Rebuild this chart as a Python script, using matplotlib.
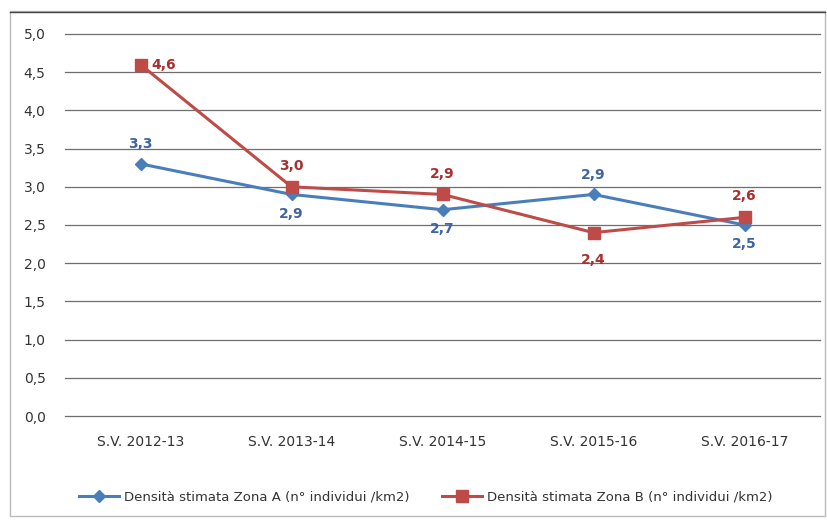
import matplotlib
matplotlib.use("Agg")
import matplotlib.pyplot as plt
from matplotlib.patches import Rectangle

categories = ["S.V. 2012-13", "S.V. 2013-14", "S.V. 2014-15", "S.V. 2015-16", "S.V. 2016-17"]
zona_a = [3.3, 2.9, 2.7, 2.9, 2.5]
zona_b = [4.6, 3.0, 2.9, 2.4, 2.6]
label_a = "Densità stimata Zona A (n° individui /km2)"
label_b = "Densità stimata Zona B (n° individui /km2)"
yticks = [0.0, 0.5, 1.0, 1.5, 2.0, 2.5, 3.0, 3.5, 4.0, 4.5, 5.0]
pos_a = ["above", "below", "below", "above", "below"]
pos_b = ["right", "above", "above", "below", "above"]

W, H = 827, 524
fig = plt.figure(figsize=(W / 100, H / 100), dpi=100)
ax = fig.add_axes([65 / W, 1 - 416 / H, 755 / W, 382 / H])

blue = "#4A7EBB"
red = "#BE4B48"
blue_t = "#3F64A0"
red_t = "#A8302E"

x = list(range(len(categories)))
ax.plot(x, zona_a, color=blue, lw=2.2, marker="D", ms=6, mfc=blue, mec=blue, label=label_a, zorder=3)
ax.plot(x, zona_b, color=red, lw=2.2, marker="s", ms=9, mfc=red, mec=red, label=label_b, zorder=4)

def fmt(v):
    return f"{v:.1f}".replace(".", ",")

for xi, v, p in zip(x, zona_a, pos_a):
    if p == "above":
        ax.annotate(fmt(v), (xi, v), xytext=(0, 9), textcoords="offset points", ha="center", va="bottom",
                    color=blue_t, fontsize=10, fontweight="bold")
    else:
        ax.annotate(fmt(v), (xi, v), xytext=(0, -9), textcoords="offset points", ha="center", va="top",
                    color=blue_t, fontsize=10, fontweight="bold")
for xi, v, p in zip(x, zona_b, pos_b):
    if p == "above":
        ax.annotate(fmt(v), (xi, v), xytext=(0, 10), textcoords="offset points", ha="center", va="bottom",
                    color=red_t, fontsize=10, fontweight="bold")
    elif p == "below":
        ax.annotate(fmt(v), (xi, v), xytext=(0, -15), textcoords="offset points", ha="center", va="top",
                    color=red_t, fontsize=10, fontweight="bold")
    else:
        ax.annotate(fmt(v), (xi, v), xytext=(8, 0), textcoords="offset points", ha="left", va="center",
                    color=red_t, fontsize=10, fontweight="bold")

ax.set_xlim(-0.5, len(categories) - 0.5)
ax.set_ylim(0, 5.0)
ax.set_yticks(yticks)
ax.set_yticklabels([fmt(t) for t in yticks], fontsize=10, color="#333333")
ax.set_xticks(x)
ax.set_xticklabels(categories, fontsize=10, color="#333333")
ax.tick_params(axis="both", length=0)
ax.tick_params(axis="y", pad=14)
ax.tick_params(axis="x", pad=14)
ax.grid(axis="y", color="#6E6E6E", lw=0.9)
for gl in ax.get_ygridlines():
    gl.set_clip_on(False)
ax.set_axisbelow(True)
for s in ax.spines.values():
    s.set_visible(False)

leg = fig.legend(loc="center", bbox_to_anchor=(0.515, 1 - 497 / H), ncol=2, frameon=False,
                 fontsize=9.5, handlelength=3, handletextpad=0.4, columnspacing=2.5)
for t in leg.get_texts():
    t.set_color("#333333")

fig.patches.append(Rectangle((10 / W, 8 / H), 815 / W, 505 / H, transform=fig.transFigure,
                             fill=False, edgecolor="#BBBBBB", lw=1))
fig.lines.append(plt.Line2D([10 / W, 825 / W], [1 - 12 / H, 1 - 12 / H], transform=fig.transFigure,
                            color="#444444", lw=1))

fig.savefig("out.png", dpi=100)
